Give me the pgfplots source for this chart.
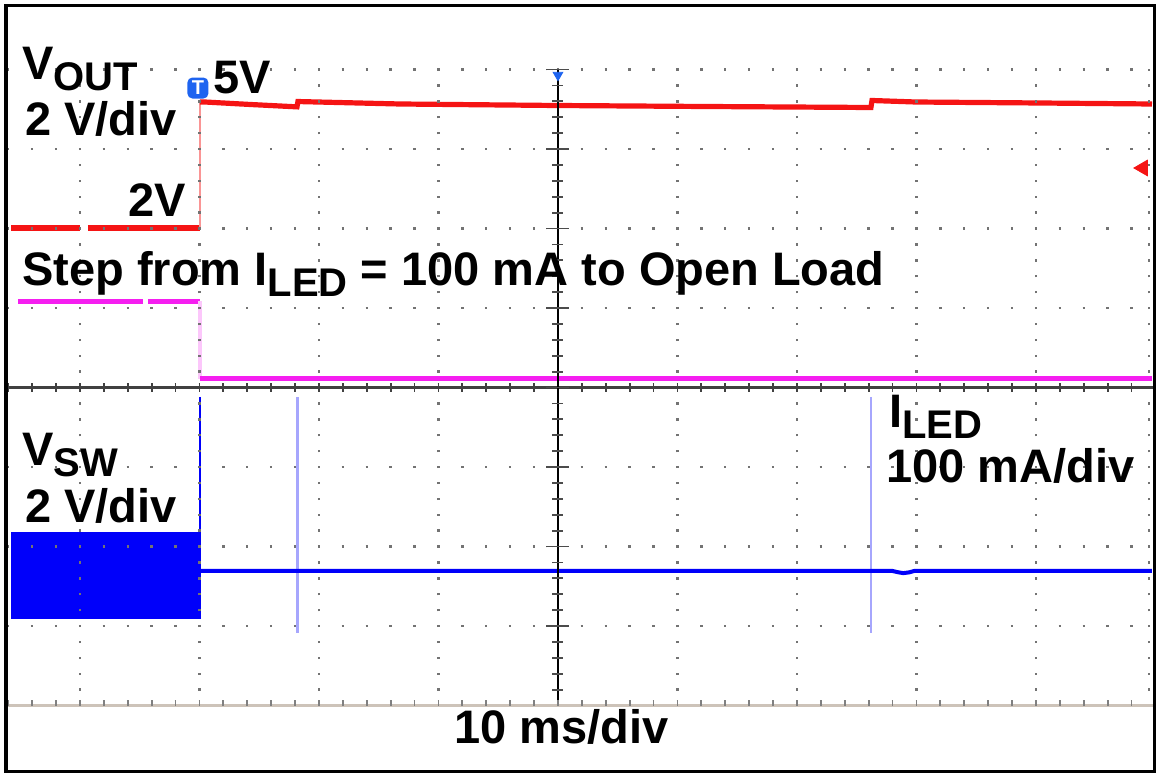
\documentclass[border=0pt]{standalone}
\usepackage{pgfplots}
\pgfplotsset{compat=1.18}
\usepackage{fontspec}
\setmainfont{Liberation Sans}
\definecolor{scred}{RGB}{245,20,20}
\definecolor{scmag}{RGB}{245,30,240}
\definecolor{scblue}{RGB}{0,0,250}
\definecolor{tblue}{RGB}{30,100,240}
\definecolor{gridc}{RGB}{115,115,115}
\definecolor{tanc}{RGB}{205,195,185}
\newcommand\bt{\fontsize{23.5}{28}\selectfont\bfseries}
\newcommand\sub[1]{\raisebox{-5.5pt}{\fontsize{20}{23}\selectfont\bfseries #1}}
\begin{document}
\begin{tikzpicture}
\path (-3pt,-1.75pt) rectangle (577.5pt,385.75pt);
\begin{axis}[at={(0,0)}, anchor=south west, scale only axis,
  width=574.25pt, height=383pt,
  xmin=-46.19, xmax=49.92, ymin=-4.83, ymax=4.805,
  xtick=\empty, ytick=\empty,
  axis line style={line width=1.8pt, black},
  axis on top]
% VOUT (red)
\addplot[scred, line width=2.6pt] coordinates {(-45.77,2.006) (-40.00,2.006)};
\addplot[scred, line width=2.6pt] coordinates {(-39.33,2.006) (-29.96,2.006)};
\addplot[scred!45, line width=1pt] coordinates {(-29.96,2.006) (-29.96,3.591)};
\addplot[scred, line width=2.6pt] coordinates {(-29.96,3.591) (-29.54,3.591) (-25.77,3.56) (-21.84,3.53) (-21.76,3.597) (-13.22,3.566) (0,3.547) (11.88,3.535) (26.19,3.522) (26.28,3.610) (29.96,3.591) (40.0,3.579) (49.71,3.566)};
% ILED (magenta)
\addplot[scmag, line width=2.4pt] coordinates {(-45.19,1.082) (-34.73,1.082)};
\addplot[scmag, line width=2.4pt] coordinates {(-34.31,1.082) (-29.96,1.082)};
\addplot[scmag!25, line width=1.6pt] coordinates {(-29.96,1.082) (-29.96,0.113)};
\addplot[scmag, line width=2.4pt] coordinates {(-29.96,0.113) (49.71,0.113)};
% VSW (blue)
\addplot[fill=scblue, draw=none] coordinates {(-45.77,-1.814) (-29.9,-1.814) (-29.9,-2.912) (-45.77,-2.912)};
\addplot[scblue, line width=1.3pt] coordinates {(-29.96,-0.119) (-29.96,-1.9)};
\addplot[scblue!35, line width=1.1pt] coordinates {(-21.8,-0.119) (-21.8,-3.088)};
\addplot[scblue!35, line width=1.1pt] coordinates {(26.19,-0.119) (26.19,-3.088)};
\addplot[scblue, line width=2pt] coordinates {(-29.96,-2.308) (28.0,-2.308) (28.5,-2.325) (28.9,-2.335) (29.4,-2.325) (29.8,-2.308) (49.71,-2.308)};
% markers
\addplot[only marks, mark=triangle*, mark size=4.5pt, mark options={rotate=90, fill=scred, draw=scred}] coordinates {(48.95,2.761)};
\addplot[only marks, mark=triangle*, mark size=2.8pt, mark options={rotate=180, fill=tblue, draw=tblue}] coordinates {(0,3.93)};
% graticule
\pgfplotsinvokeforeach{-40,-30,-20,-10,10,20,30,40,49.45}{
  \draw[gridc, line width=1.2pt, dash pattern=on 1.2pt off 6.75pt, dash phase=0.6pt] (axis cs:#1,-4) -- (axis cs:#1,4);
}
\pgfplotsinvokeforeach{-3,-2,-1,1,2,3,4}{
  \draw[gridc, line width=1.2pt, dash pattern=on 1.2pt off 10.75pt, dash phase=0.6pt] (axis cs:-46,#1) -- (axis cs:50,#1);
}
\draw[line width=1.8pt, black!75] (axis cs:-46.19,0) -- (axis cs:49.92,0);
\draw[line width=4.5pt, black!75, dash pattern=on 0.9pt off 11.05pt, dash phase=0.45pt] (axis cs:-46,0) -- (axis cs:50,0);
\draw[line width=1.1pt, black] (axis cs:0,-4) -- (axis cs:0,4);
\draw[line width=5.5pt, black!70, dash pattern=on 0.9pt off 7.05pt, dash phase=0.45pt] (axis cs:0,-4) -- (axis cs:0,4);
\draw[line width=11.5pt, black!70, dash pattern=on 0.9pt off 38.85pt, dash phase=0.45pt] (axis cs:0,-4) -- (axis cs:0,4);
\draw[line width=1.2pt, tanc] (axis cs:-46.19,-4) -- (axis cs:49.92,-4);
\draw[line width=3pt, gray, dash pattern=on 0.9pt off 11.05pt, dash phase=0.45pt] ([yshift=1.5pt]axis cs:-46,-4) -- ([yshift=1.5pt]axis cs:50,-4);
% trigger marker
\node[fill=tblue, rounded corners=2.5pt, minimum width=10.5pt, minimum height=10.5pt, inner sep=0pt, text=white, font=\fontsize{10}{10}\selectfont\bfseries] at (axis cs:-30.13,3.767) {T};
% labels
\node[anchor=base west, inner sep=0pt, font=\bt] at (axis cs:-44.85,3.868) {V\sub{OUT}};
\node[anchor=base west, inner sep=0pt, font=\bt] at (axis cs:-44.60,3.176) {2 V/div};
\node[anchor=base west, inner sep=0pt, font=\bt] at (axis cs:-28.87,3.704) {5V};
\node[anchor=base west, inner sep=0pt, font=\bt] at (axis cs:-35.95,2.145) {2V};
\node[anchor=base west, inner sep=0pt, font=\bt] at (axis cs:-44.85,1.289) {Step from I\sub{LED} = 100 mA to Open Load};
\node[anchor=base west, inner sep=0pt, font=\bt] at (axis cs:-44.85,-0.975) {V\sub{SW}};
\node[anchor=base west, inner sep=0pt, font=\bt] at (axis cs:-44.60,-1.704) {2 V/div};
\node[anchor=base west, inner sep=0pt, font=\bt] at (axis cs:27.70,-0.509) {I\sub{LED}};
\node[anchor=base west, inner sep=0pt, font=\bt] at (axis cs:27.45,-1.201) {100 mA/div};
\node[anchor=base west, inner sep=0pt, font=\bt] at (axis cs:-8.70,-4.472) {10 ms/div};
\end{axis}
\end{tikzpicture}
\end{document}
